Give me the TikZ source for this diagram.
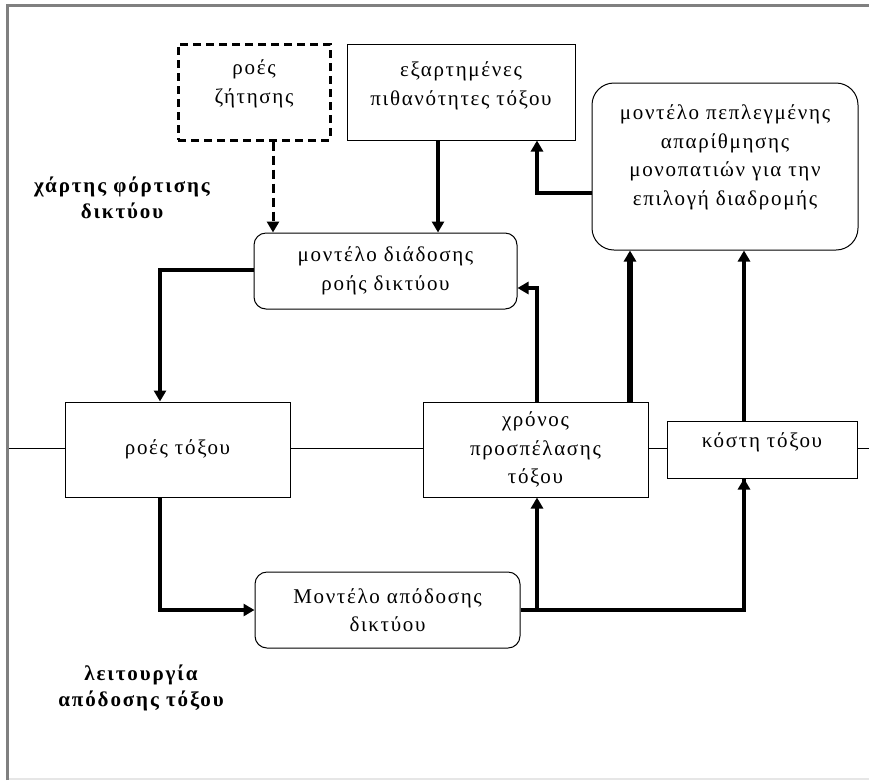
\documentclass[tikz,border=0pt]{standalone}
\usepackage{fontspec}
\setmainfont{Liberation Serif}
\newfontfamily\boxfont[LetterSpace=8]{Liberation Serif}
\newfontfamily\lblfont[LetterSpace=9]{Liberation Serif}
\usetikzlibrary{arrows.meta}
\definecolor{framegray}{HTML}{808080}
\definecolor{framelight}{HTML}{E6E6E6}
\tikzset{
  box/.style={draw=black, line width=1pt, align=center, inner sep=2pt,
    font=\boxfont\fontsize{21}{28.5}\selectfont},
  rbox/.style={box, rounded corners=12pt},
  dbox/.style={box, line width=3pt, dash pattern=on 8pt off 5pt},
  lbl/.style={align=center, font=\lblfont\bfseries\fontsize{21}{26}\selectfont},
  tip/.style={-{Triangle[length=11pt,width=12pt]}},
  arr/.style={tip, line width=4pt},
  arrbig/.style={tip, line width=6pt},
  darr/.style={tip, line width=3pt, dash pattern=on 9pt off 5pt},
  thin/.style={line width=1pt},
}
\begin{document}
\begin{tikzpicture}[x=1pt,y=-1pt]
\useasboundingbox (0,0) rectangle (869,780);
\fill[white] (0,0) rectangle (869,780);
% frame
\draw[framegray, line width=3pt] (7.5,780) -- (7.5,5.5) -- (869,5.5);
\draw[framelight, line width=2pt] (9,779) -- (869,779);

\node[dbox, minimum width=152pt, minimum height=96pt] (dem) at (254,92) {ροές\\ζήτησης\\[-8pt]};
\node[box, minimum width=228pt, minimum height=96pt] (cond) at (461,92) {εξαρτημένες\\πιθανότητες τόξου\\[-12pt]};
\node[rbox, rounded corners=22pt, minimum width=266pt, minimum height=167pt] (path) at (725,166.5) {μοντέλο πεπλεγμένης\\απαρίθμησης\\μονοπατιών για την\\επιλογή διαδρομής\\[-6pt]};
\node[rbox, minimum width=263pt, minimum height=76pt] (prop) at (385.5,271) {μοντέλο διάδοσης\\ροής δικτύου};
\node[box, minimum width=225pt, minimum height=95pt] (flows) at (177.5,449.5) {\\[-14pt]ροές τόξου};
\node[box, minimum width=225pt, minimum height=95pt] (time) at (535.5,449.5) {χρόνος\\προσπέλασης\\τόξου};
\node[box, minimum width=190pt, minimum height=57pt] (cost) at (762,449.5) {κόστη τόξου\\[-10pt]};
\node[rbox, minimum width=265pt, minimum height=76pt] (perf) at (387.5,610) {Μοντέλο απόδοσης\\δικτύου};

\node[lbl] (lmap) at (122,198) {χάρτης φόρτισης\\δικτύου};
\node[lbl] (lfun) at (141,688) {λειτουργία\\απόδοσης τόξου};

% guide coordinates
\coordinate (xa) at (273,0);
\coordinate (xb) at (438,0);
\coordinate (pc) at (537,193);
\coordinate (pl) at (160,270);
\coordinate (tp) at (537,288);
\coordinate (xc) at (630,0);
\coordinate (xd) at (744,0);
\coordinate (pb) at (160,610);
\coordinate (lw) at (9,448);
\coordinate (le) at (869,448);

% thin horizontal line
\draw[thin] (lw) -- (lw -| flows.west);
\draw[thin] (flows.east |- lw) -- (time.west |- lw);
\draw[thin] (time.east |- lw) -- (cost.west |- lw);
\draw[thin] (cost.east |- lw) -- (le);

% connectors
\draw[darr] (dem.south -| xa) -- (prop.north -| xa);
\draw[arr] (cond.south -| xb) -- (prop.north -| xb);
\draw[arr] (pc -| path.west) -- (pc) -- (cond.south -| pc);
\draw[arr] (pl -| prop.west) -- (pl) -- (flows.north -| pl);
\draw[arr] (time.north -| tp) -- (tp) -- (tp -| prop.east);
\draw[arrbig] (time.north -| xc) -- (path.south -| xc);
\draw[arr] (cost.north -| xd) -- (path.south -| xd);
\draw[arr] (flows.south -| pb) -- (pb) -- (pb -| perf.west);
\draw[line width=4pt] (perf.east) -- (perf.east -| xd) -- ([yshift=-0.1pt]cost.south -| xd);
\draw[arr] (perf.east -| pc) -- (time.south -| pc);
\draw[arr] ([yshift=-20pt]cost.south -| xd) -- (cost.south -| xd);
\end{tikzpicture}
\end{document}
